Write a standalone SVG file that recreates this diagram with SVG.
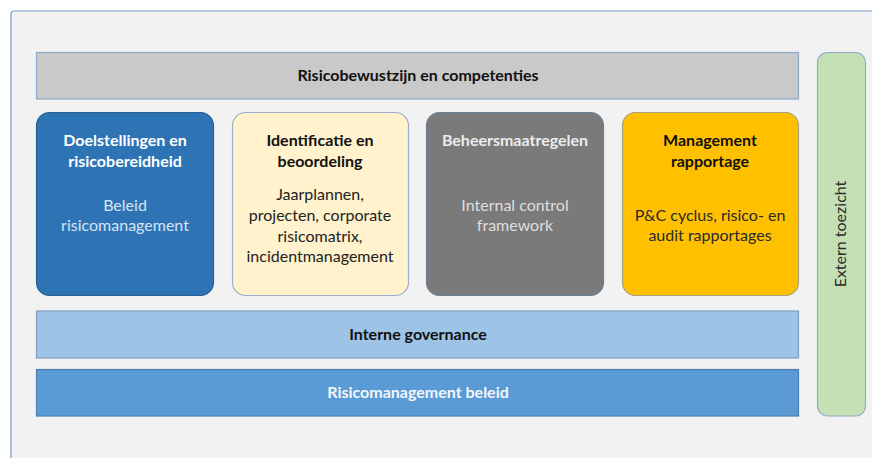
<svg xmlns="http://www.w3.org/2000/svg" width="872" height="458" viewBox="0 0 872 458">
<style>
text{font-family:Lato,"Open Sans","Liberation Sans",sans-serif;font-size:16px;text-anchor:middle}
.b{font-weight:bold}
.bar{stroke-width:1.2}
.box{stroke-width:1.2}
</style>
<rect x="0" y="0" width="872" height="458" fill="#ffffff"/>
<rect id="frame" x="11" y="11" width="880" height="470" rx="3" fill="#f2f2f2" stroke="#7b9bc5" stroke-width="1.2"/>
<g id="connectors"></g>
<g id="risicobewustzijn">
<rect class="bar" x="36.5" y="52.5" width="762" height="46.5" fill="#c9c9c9" stroke="#8ea9c9"/>
<text class="b" x="418" y="81" fill="#111">Risicobewustzijn en competenties</text>
</g>
<g id="doelstellingen">
<rect class="box" x="36.5" y="112.5" width="177" height="183" rx="13" fill="#2e74b5" stroke="#2a5f94"/>
<text class="b" x="125" y="146" fill="#ffffff">Doelstellingen en</text>
<text class="b" x="125" y="167" fill="#ffffff">risicobereidheid</text>
<text x="125" y="211" fill="#d6e3f3">Beleid</text>
<text x="125" y="231" fill="#d6e3f3">risicomanagement</text>
</g>
<g id="identificatie">
<rect class="box" x="232.5" y="112.5" width="176" height="183" rx="13" fill="#fff2cc" stroke="#9bb0c8"/>
<text class="b" x="320" y="146" fill="#111">Identificatie en</text>
<text class="b" x="320" y="167" fill="#111">beoordeling</text>
<text x="320" y="200" fill="#222">Jaarplannen,</text>
<text x="320" y="221" fill="#222">projecten, corporate</text>
<text x="320" y="242" fill="#222">risicomatrix,</text>
<text x="320" y="262" fill="#222">incidentmanagement</text>
</g>
<g id="beheersmaatregelen">
<rect class="box" x="426.5" y="112.5" width="177" height="183" rx="13" fill="#7a7a7a" stroke="#6b7f96"/>
<text class="b" x="515" y="146" fill="#ececec">Beheersmaatregelen</text>
<text x="515" y="211" fill="#dedede">Internal control</text>
<text x="515" y="231" fill="#dedede">framework</text>
</g>
<g id="management">
<rect class="box" x="622.5" y="112.5" width="176" height="183" rx="13" fill="#ffc000" stroke="#a8a27a"/>
<text class="b" x="710" y="146" fill="#111">Management</text>
<text class="b" x="710" y="167" fill="#111">rapportage</text>
<text x="710" y="221" fill="#2a2a2a">P&amp;C cyclus, risico- en</text>
<text x="710" y="241" fill="#2a2a2a">audit rapportages</text>
</g>
<g id="governance">
<rect class="bar" x="36.5" y="311" width="762" height="47" fill="#9dc3e6" stroke="#7f9fc2"/>
<text class="b" x="418" y="340" fill="#111">Interne governance</text>
</g>
<g id="beleid">
<rect class="bar" x="36.5" y="369.5" width="762" height="46.5" fill="#5b9bd5" stroke="#4a7fb0"/>
<text class="b" x="418" y="398" fill="#f2f6fb">Risicomanagement beleid</text>
</g>
<g id="extern">
<rect class="box" x="817.5" y="52.5" width="48" height="363.5" rx="10" fill="#c5e0b4" stroke="#8eaacb"/>
<text x="846" y="234" fill="#2a2a2a" transform="rotate(-90 846 234)">Extern toezicht</text>
</g>
</svg>
